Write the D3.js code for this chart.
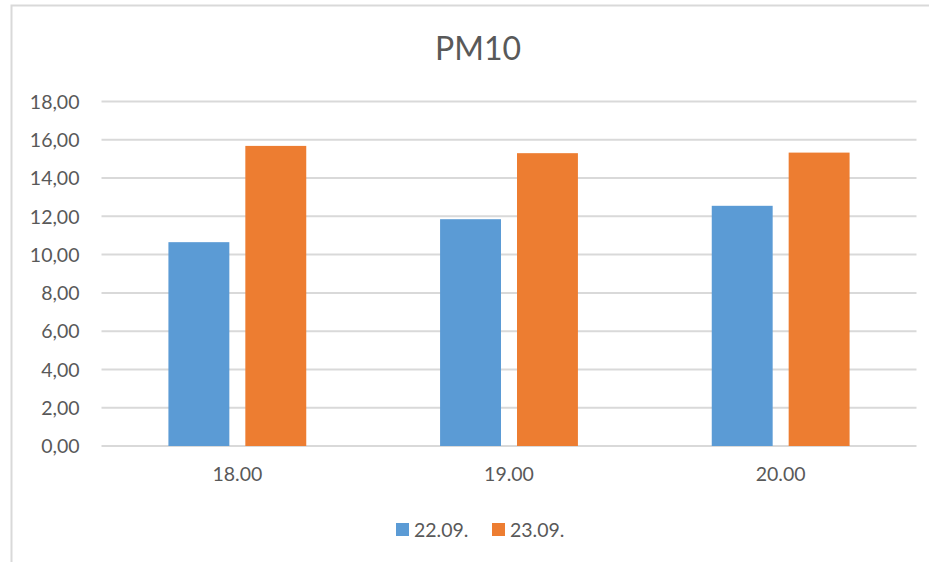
<!DOCTYPE html>
<html>
<head>
<meta charset="utf-8">
<script src="https://cdn.jsdelivr.net/npm/d3@7"></script>
<style>
  body { margin: 0; background: #fff; }
  svg text { font-family: Lato, "Open Sans", sans-serif; fill: #595959; }
</style>
</head>
<body>
<div id="chart"></div>
<script>
// data
var categories = ["18.00", "19.00", "20.00"];
var seriesNames = ["22.09.", "23.09."];
var values2209 = [10.65, 11.85, 12.55];
var values2309 = [15.68, 15.30, 15.33];
var yTicks = [0, 2, 4, 6, 8, 10, 12, 14, 16, 18];
var colors = ["#5b9bd5", "#ed7d31"];

var width = 929, height = 562;
var margin = {top: 101.5, right: 12.5, bottom: 116, left: 101.5};

var svg = d3.select("#chart")
    .append("svg")
    .attr("width", width)
    .attr("height", height);

// chart area border (only top and left are visible in the crop)
svg.append("rect")
    .attr("x", 11.5)
    .attr("y", 5.5)
    .attr("width", 940)
    .attr("height", 600)
    .attr("fill", "none")
    .attr("stroke", "#d9d9d9")
    .attr("stroke-width", 2);

var x = d3.scaleBand()
    .domain(categories)
    .range([margin.left, width - margin.right]);

var xInner = d3.scaleBand()
    .domain(seriesNames)
    .range([0, x.bandwidth()])
    .paddingInner(0.208)
    .paddingOuter(0.87);

var y = d3.scaleLinear()
    .domain([0, 18])
    .range([height - margin.bottom, margin.top]);

// gridlines
svg.append("g")
    .selectAll("line")
    .data(yTicks)
    .enter()
    .append("line")
    .attr("x1", margin.left)
    .attr("x2", width - margin.right)
    .attr("y1", function (d) { return y(d); })
    .attr("y2", function (d) { return y(d); })
    .attr("stroke", "#d9d9d9")
    .attr("stroke-width", 2);

// y axis labels
var yAxis = d3.axisLeft(y)
    .tickValues(yTicks)
    .tickSize(0)
    .tickPadding(22)
    .tickFormat(function (d) { return d3.format(".2f")(d).replace(".", ","); });

var gy = svg.append("g")
    .attr("transform", "translate(" + margin.left + ",0)")
    .call(yAxis);
gy.select(".domain").remove();
gy.selectAll("text").style("font-size", "19.5px").attr("dy", "0.35em");

// x axis labels
var xAxis = d3.axisBottom(x).tickSize(0).tickPadding(21);
var gx = svg.append("g")
    .attr("transform", "translate(0," + y(0) + ")")
    .call(xAxis);
gx.select(".domain").remove();
gx.selectAll("text").style("font-size", "19.5px");

// bars
var rows = categories.map(function (c, i) {
    return {cat: c, vals: [values2209[i], values2309[i]]};
});

var groups = svg.append("g")
    .selectAll("g")
    .data(rows)
    .enter()
    .append("g")
    .attr("transform", function (d) { return "translate(" + x(d.cat) + ",0)"; });

groups.selectAll("rect")
    .data(function (d) {
        return d.vals.map(function (v, j) { return {key: seriesNames[j], value: v, idx: j}; });
    })
    .enter()
    .append("rect")
    .attr("x", function (d) { return xInner(d.key); })
    .attr("width", xInner.bandwidth())
    .attr("y", function (d) { return y(d.value); })
    .attr("height", function (d) { return y(0) - y(d.value); })
    .attr("fill", function (d) { return colors[d.idx]; });

// title
svg.append("text")
    .attr("x", 478)
    .attr("y", 60)
    .attr("text-anchor", "middle")
    .style("font-size", "32px")
    .text("PM10");

// legend
var legend = svg.append("g");
var legendItems = [{x: 396, name: seriesNames[0]}, {x: 492, name: seriesNames[1]}];
legendItems.forEach(function (it, i) {
    legend.append("rect")
        .attr("x", it.x)
        .attr("y", 523)
        .attr("width", 13)
        .attr("height", 13)
        .attr("fill", colors[i]);
    legend.append("text")
        .attr("x", it.x + 18)
        .attr("y", 530)
        .attr("dy", "0.35em")
        .style("font-size", "19.5px")
        .text(it.name);
});
</script>
</body>
</html>
